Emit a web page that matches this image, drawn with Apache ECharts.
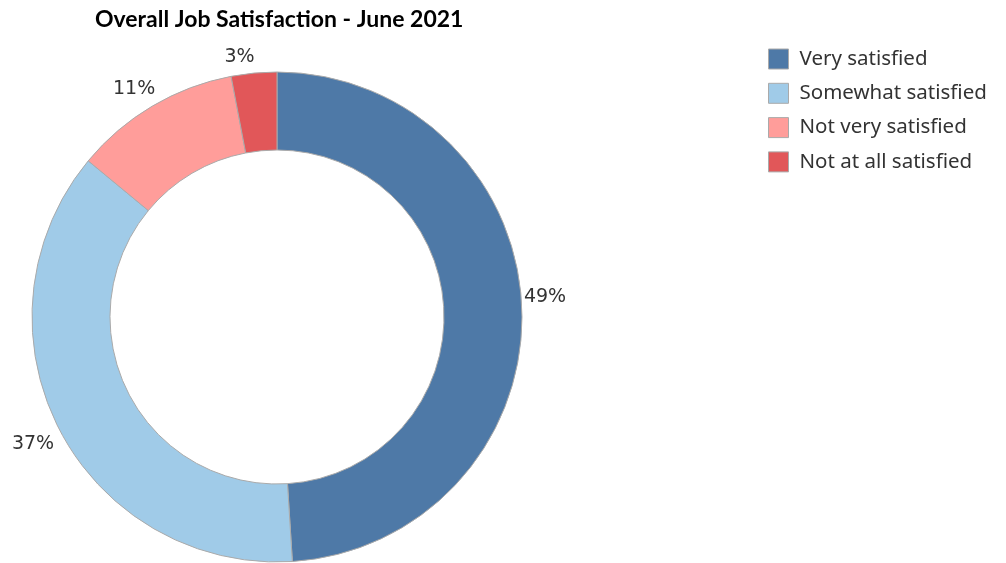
<!DOCTYPE html>
<html>
<head>
<meta charset="utf-8">
<script src="https://cdn.jsdelivr.net/npm/echarts@6/dist/echarts.min.js"></script>
<style>
html,body{margin:0;padding:0;background:#fff;}
#chart{width:1006px;height:563px;}
</style>
</head>
<body>
<div id="chart"></div>
<script>
const categories = ['Very satisfied', 'Somewhat satisfied', 'Not very satisfied', 'Not at all satisfied'];
const percentages = [49, 37, 11, 3];
const colors = ['#4e79a7', '#a0cbe8', '#ff9d9a', '#e15759'];
const titleText = 'Overall Job Satisfaction - June 2021';

// small label nudges to mimic the reference placement
const labelNudge = [[-7, -12], [4, 14], [10, -14], [6, -12]];

const chart = echarts.init(document.getElementById('chart'));
chart.setOption({
  animation: false,
  title: {
    text: titleText,
    left: 90,
    top: 3,
    textStyle: { fontFamily: 'Lato', fontWeight: 'bold', fontSize: 23, color: '#000' }
  },
  legend: {
    orient: 'vertical',
    left: 768,
    top: 48.5,
    padding: 0,
    icon: 'rect',
    itemWidth: 20,
    itemHeight: 20,
    itemGap: 13.3,
    data: categories,
    itemStyle: { borderColor: '#aaa', borderWidth: 1 },
    textStyle: { fontFamily: 'Noto Sans', fontSize: 20.5, lineHeight: 19, color: '#333', padding: [0, 0, 0, 6] }
  },
  series: [{
    type: 'pie',
    center: [277, 317],
    radius: [167, 245],
    startAngle: 90,
    clockwise: true,
    avoidLabelOverlap: false,
    itemStyle: { borderColor: '#aaa', borderWidth: 1 },
    label: {
      show: true,
      position: 'outside',
      formatter: '{c}%',
      fontFamily: 'DejaVu Sans',
      fontSize: 19,
      color: '#333'
    },
    labelLine: { show: false, length: 4, length2: 0 },
    labelLayout: function (p) {
      const n = labelNudge[p.dataIndex];
      return { dx: n[0], dy: n[1] };
    },
    data: categories.map((c, i) => ({ name: c, value: percentages[i], itemStyle: { color: colors[i] } }))
  }]
});
</script>
</body>
</html>
